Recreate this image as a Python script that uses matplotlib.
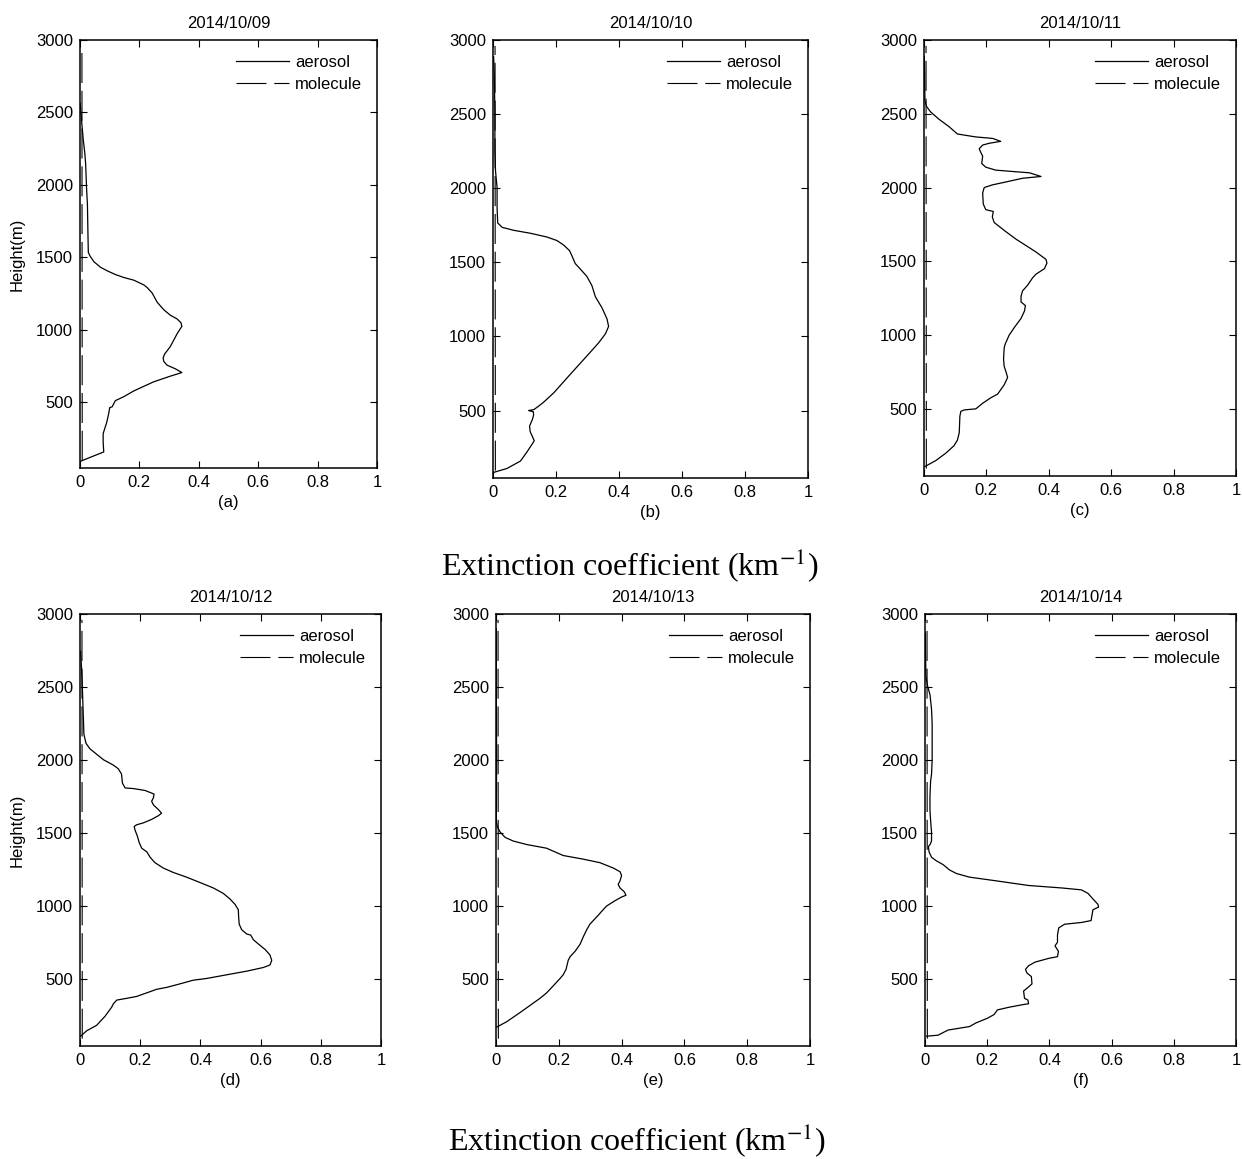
import matplotlib
matplotlib.use('Agg')
import matplotlib.pyplot as plt
from matplotlib.ticker import FormatStrFormatter

plt.rcParams['font.family'] = ['Liberation Sans', 'DejaVu Sans']
plt.rcParams['mathtext.fontset'] = 'stix'

dates = ['2014/10/09', '2014/10/10', '2014/10/11', '2014/10/12', '2014/10/13', '2014/10/14']
panel_labels = ['(a)', '(b)', '(c)', '(d)', '(e)', '(f)']

# aerosol extinction profiles (height in m, extinction in km^-1)
a_height = [88, 92, 156, 220, 283, 360, 424, 462, 467, 510, 538, 577, 640, 679, 704, 730, 755, 781, 806, 832,
            883, 972, 1023, 1048, 1074, 1100, 1138, 1189, 1253, 1291, 1309, 1342, 1360, 1380, 1406, 1431,
            1469, 1508, 1533, 1635, 1865, 1980, 2145, 2222, 2311, 2426, 2528, 2566]
a_ext = [0.0, 0.002, 0.08, 0.078, 0.078, 0.09, 0.097, 0.10, 0.108, 0.119, 0.148, 0.181, 0.248, 0.304, 0.343,
         0.321, 0.293, 0.282, 0.280, 0.285, 0.304, 0.327, 0.343, 0.340, 0.327, 0.304, 0.282, 0.26, 0.243,
         0.226, 0.215, 0.181, 0.148, 0.12, 0.092, 0.069, 0.047, 0.034, 0.028, 0.027, 0.025, 0.022, 0.019,
         0.016, 0.011, 0.006, 0.002, 0.0]

b_height = [84, 109, 159, 221, 296, 358, 395, 440, 470, 492, 500, 507, 530, 557, 620, 720, 819, 894, 956,
            1018, 1068, 1118, 1193, 1268, 1343, 1405, 1455, 1492, 1542, 1579, 1617, 1647, 1671, 1696, 1716,
            1736, 1766, 1866, 2003, 2115, 2265, 2514, 2763, 2888]
b_ext = [0.004, 0.044, 0.087, 0.108, 0.131, 0.118, 0.116, 0.125, 0.129, 0.128, 0.113, 0.13, 0.145, 0.161,
         0.193, 0.235, 0.277, 0.309, 0.335, 0.357, 0.367, 0.362, 0.346, 0.325, 0.314, 0.298, 0.277, 0.261,
         0.251, 0.243, 0.224, 0.203, 0.171, 0.119, 0.066, 0.029, 0.015, 0.013, 0.013, 0.008, 0.006, 0.006,
         0.004, 0.002]

c_height = [108, 150, 200, 250, 288, 338, 450, 483, 493, 500, 538, 575, 600, 663, 713, 750, 788, 838, 913,
            938, 1000, 1050, 1113, 1163, 1200, 1225, 1263, 1300, 1338, 1388, 1413, 1450, 1488, 1513, 1563,
            1600, 1650, 1700, 1763, 1800, 1838, 1850, 1888, 1963, 2000, 2018, 2038, 2063, 2075, 2100, 2108,
            2118, 2138, 2163, 2213, 2238, 2263, 2288, 2300, 2313, 2333, 2343, 2363, 2413, 2463, 2513, 2550,
            2588, 2763, 2888]
c_ext = [0.002, 0.038, 0.07, 0.096, 0.107, 0.113, 0.115, 0.118, 0.129, 0.166, 0.188, 0.214, 0.236, 0.257,
         0.268, 0.263, 0.257, 0.255, 0.257, 0.26, 0.273, 0.289, 0.311, 0.322, 0.325, 0.311, 0.311, 0.316,
         0.332, 0.348, 0.359, 0.386, 0.394, 0.391, 0.359, 0.332, 0.295, 0.263, 0.225, 0.219, 0.222, 0.198,
         0.19, 0.188, 0.193, 0.219, 0.263, 0.316, 0.375, 0.338, 0.289, 0.23, 0.198, 0.185, 0.188, 0.182,
         0.177, 0.188, 0.209, 0.246, 0.22, 0.166, 0.107, 0.08, 0.048, 0.021, 0.008, 0.003, 0.002, 0.001]

d_height = [112, 149, 186, 248, 310, 334, 359, 371, 384, 408, 433, 446, 470, 495, 507, 532, 557, 582, 599,
            631, 668, 705, 742, 772, 804, 811, 841, 878, 928, 977, 1014, 1051, 1089, 1126, 1163, 1200, 1232,
            1262, 1299, 1336, 1373, 1398, 1435, 1484, 1521, 1546, 1558, 1571, 1595, 1620, 1637, 1657, 1694,
            1719, 1744, 1768, 1775, 1793, 1806, 1810, 1843, 1905, 1942, 1966, 2003, 2041, 2078, 2115, 2177,
            2300, 2424, 2547, 2671, 2745]
d_ext = [0.002, 0.022, 0.055, 0.083, 0.105, 0.111, 0.122, 0.155, 0.188, 0.221, 0.255, 0.288, 0.332, 0.376,
         0.421, 0.487, 0.554, 0.609, 0.631, 0.637, 0.631, 0.615, 0.593, 0.576, 0.567, 0.554, 0.537, 0.529,
         0.527, 0.526, 0.515, 0.498, 0.476, 0.443, 0.399, 0.354, 0.310, 0.277, 0.249, 0.233, 0.222, 0.205,
         0.197, 0.19, 0.183, 0.18, 0.188, 0.21, 0.238, 0.26, 0.271, 0.263, 0.244, 0.238, 0.244, 0.246,
         0.238, 0.216, 0.177, 0.15, 0.141, 0.138, 0.127, 0.111, 0.078, 0.055, 0.033, 0.02, 0.013, 0.011,
         0.009, 0.007, 0.004, 0.002]

e_height = [174, 211, 273, 322, 371, 408, 458, 507, 532, 569, 631, 656, 693, 742, 792, 841, 878, 915, 940,
            965, 1002, 1039, 1064, 1076, 1101, 1126, 1150, 1175, 1212, 1237, 1262, 1299, 1323, 1348, 1398,
            1423, 1447, 1472, 1509, 1546, 1583, 2000, 2500, 2900]
e_ext = [0.002, 0.034, 0.076, 0.108, 0.14, 0.161, 0.183, 0.204, 0.214, 0.223, 0.23, 0.236, 0.252, 0.268,
         0.278, 0.289, 0.299, 0.315, 0.326, 0.336, 0.352, 0.379, 0.4, 0.414, 0.408, 0.395, 0.389, 0.395,
         0.4, 0.395, 0.374, 0.331, 0.278, 0.214, 0.161, 0.098, 0.055, 0.029, 0.013, 0.004, 0.001, 0.002,
         0.001, 0.001]

f_height = [112, 119, 154, 178, 203, 235, 260, 292, 310, 327, 334, 359, 371, 421, 440, 470, 520, 544, 569,
            594, 619, 644, 656, 693, 730, 755, 804, 853, 878, 890, 903, 940, 977, 995, 1014, 1051, 1089,
            1113, 1126, 1143, 1175, 1200, 1225, 1249, 1286, 1311, 1336, 1373, 1410, 1422, 1447, 1509, 1558,
            1657, 1756, 1855, 1904, 2003, 2126, 2250, 2349, 2448, 2510, 2572, 2696, 2869]
f_ext = [0.005, 0.042, 0.074, 0.143, 0.164, 0.201, 0.222, 0.233, 0.27, 0.312, 0.333, 0.331, 0.32, 0.317,
         0.328, 0.344, 0.342, 0.328, 0.323, 0.333, 0.354, 0.397, 0.426, 0.429, 0.418, 0.426, 0.426, 0.43,
         0.449, 0.503, 0.534, 0.537, 0.54, 0.558, 0.556, 0.54, 0.524, 0.503, 0.44, 0.333, 0.228, 0.143,
         0.101, 0.079, 0.058, 0.037, 0.021, 0.013, 0.011, 0.016, 0.021, 0.021, 0.019, 0.016, 0.016, 0.018,
         0.021, 0.023, 0.023, 0.023, 0.021, 0.016, 0.008, 0.003, 0.002, 0.001]

# molecular extinction (same for every day)
mol_height = [95, 1000, 2000, 2960]
mol_ext = [0.0075, 0.0072, 0.0068, 0.0065]

heights = [a_height, b_height, c_height, d_height, e_height, f_height]
exts = [a_ext, b_ext, c_ext, d_ext, e_ext, f_ext]

W, H = 1242, 1159
# axes boxes in pixels: left, top, right, bottom
boxes = [(80, 40, 377, 468), (493, 40, 808, 478), (924, 40, 1236, 476),
         (80, 614, 381, 1046), (496, 614, 810, 1046), (925, 614, 1236, 1046)]

fig = plt.figure(figsize=(W / 100, H / 100), dpi=100)

for i in range(6):
    l, t, r, b = boxes[i]
    ax = fig.add_axes([l / W, 1 - b / H, (r - l) / W, (b - t) / H])
    ax.plot(exts[i], heights[i], color='black', lw=0.9, label='aerosol')
    ax.plot(mol_ext, mol_height, color='black', lw=0.8, linestyle=(0, (27, 7)), label='molecule')
    ax.set_xlim(0, 1)
    ax.set_ylim(45, 3000)
    ax.set_xticks([0, 0.2, 0.4, 0.6, 0.8, 1])
    ax.set_yticks([500, 1000, 1500, 2000, 2500, 3000])
    ax.xaxis.set_major_formatter(FormatStrFormatter('%g'))
    ax.tick_params(direction='in', top=True, right=True, length=5, width=0.8, labelsize=12, pad=5)
    for s in ax.spines.values():
        s.set_linewidth(1.1)
    ax.set_title(dates[i], fontsize=12, pad=9)
    ax.set_xlabel(panel_labels[i], fontsize=12, labelpad=4)
    if i % 3 == 0:
        ax.set_ylabel('Height(m)', fontsize=12, labelpad=8)
    ax.legend(loc='upper right', frameon=False, fontsize=12, handlelength=3.2,
              handletextpad=0.35, labelspacing=0.4)

fig.text(630 / W, 1 - 565 / H, 'Extinction coefficient (km$^{-1}$)', ha='center', va='center',
         fontsize=23, family='Liberation Serif')
fig.text(637 / W, 1 - 1140 / H, 'Extinction coefficient (km$^{-1}$)', ha='center', va='center',
         fontsize=23, family='Liberation Serif')

fig.savefig('out.png', dpi=100)
